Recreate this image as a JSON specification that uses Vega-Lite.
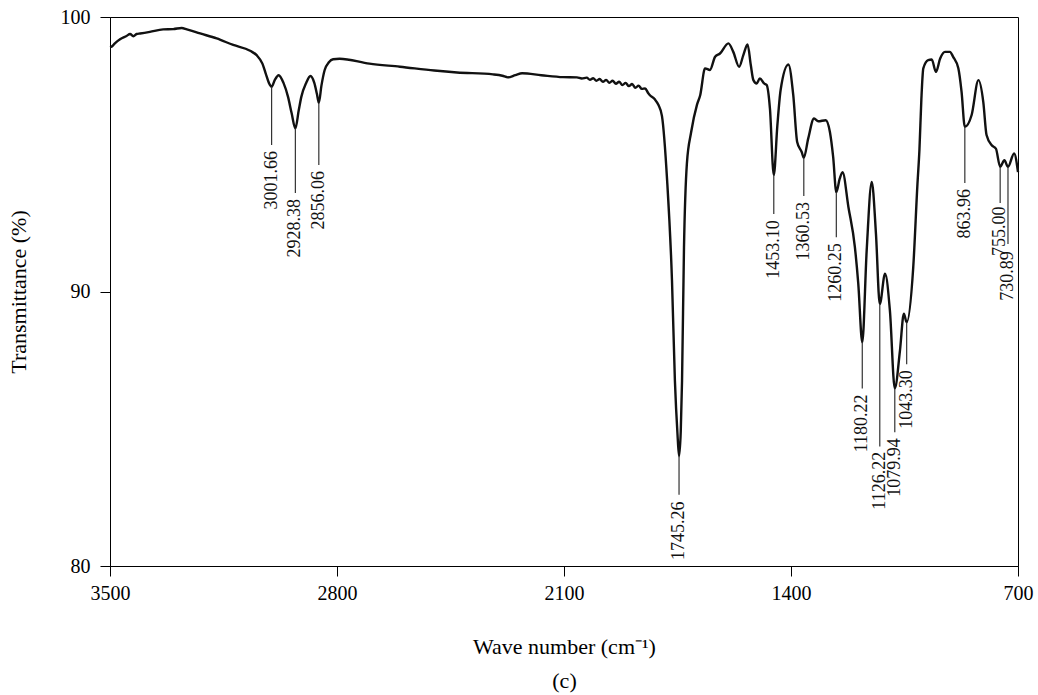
{
  "$schema": "https://vega.github.io/schema/vega-lite/v6.json",
  "width": 908,
  "height": 549,
  "autosize": {"type": "none"},
  "padding": {"left": 110, "top": 17, "right": 20, "bottom": 129},
  "background": "white",
  "config": {
    "font": "Liberation Serif",
    "view": {"stroke": "#000000", "strokeWidth": 1},
    "axis": {
      "domainColor": "#000000",
      "domainWidth": 1,
      "tickColor": "#000000",
      "tickWidth": 1,
      "tickSize": 10,
      "grid": false,
      "labelFont": "Liberation Serif",
      "labelFontSize": 20,
      "labelColor": "#000000",
      "titleFont": "Liberation Serif",
      "titleFontSize": 22,
      "titleFontWeight": "normal",
      "titleColor": "#000000"
    }
  },
  "datasets": {
    "spectrum": [
      {"wn": 3500, "T": 98.9}, {"wn": 3495, "T": 98.92}, {"wn": 3485, "T": 99.04}, {"wn": 3469, "T": 99.19},
      {"wn": 3449, "T": 99.31}, {"wn": 3438, "T": 99.38}, {"wn": 3428, "T": 99.3}, {"wn": 3418, "T": 99.38},
      {"wn": 3407, "T": 99.4}, {"wn": 3377, "T": 99.46}, {"wn": 3336, "T": 99.55}, {"wn": 3305, "T": 99.56},
      {"wn": 3279, "T": 99.6}, {"wn": 3263, "T": 99.55}, {"wn": 3222, "T": 99.4}, {"wn": 3171, "T": 99.22},
      {"wn": 3120, "T": 98.98}, {"wn": 3068, "T": 98.77}, {"wn": 3048, "T": 98.61}, {"wn": 3030, "T": 98.3},
      {"wn": 3020, "T": 97.95}, {"wn": 3010, "T": 97.6}, {"wn": 3001.66, "T": 97.46}, {"wn": 2992, "T": 97.7},
      {"wn": 2980, "T": 97.88}, {"wn": 2965, "T": 97.6}, {"wn": 2951, "T": 97.09}, {"wn": 2940, "T": 96.5},
      {"wn": 2928.38, "T": 95.94}, {"wn": 2918, "T": 96.6}, {"wn": 2910, "T": 97.09}, {"wn": 2895, "T": 97.6},
      {"wn": 2882, "T": 97.85}, {"wn": 2870, "T": 97.6}, {"wn": 2862, "T": 97.2}, {"wn": 2856.06, "T": 96.87},
      {"wn": 2848, "T": 97.5}, {"wn": 2838, "T": 98.07}, {"wn": 2825, "T": 98.35}, {"wn": 2812, "T": 98.46},
      {"wn": 2792, "T": 98.48}, {"wn": 2700, "T": 98.3}, {"wn": 2606, "T": 98.19}, {"wn": 2500, "T": 98.05},
      {"wn": 2430, "T": 97.98}, {"wn": 2319, "T": 97.91}, {"wn": 2290, "T": 97.86}, {"wn": 2273, "T": 97.8},
      {"wn": 2250, "T": 97.88}, {"wn": 2229, "T": 97.95}, {"wn": 2170, "T": 97.88}, {"wn": 2103, "T": 97.81},
      {"wn": 2060, "T": 97.8}, {"wn": 2045, "T": 97.76}, {"wn": 2030, "T": 97.79}, {"wn": 2020, "T": 97.71},
      {"wn": 2010, "T": 97.77}, {"wn": 2000, "T": 97.68}, {"wn": 1990, "T": 97.74}, {"wn": 1980, "T": 97.64},
      {"wn": 1970, "T": 97.71}, {"wn": 1960, "T": 97.6}, {"wn": 1950, "T": 97.68}, {"wn": 1940, "T": 97.57},
      {"wn": 1930, "T": 97.64}, {"wn": 1920, "T": 97.52}, {"wn": 1910, "T": 97.6}, {"wn": 1900, "T": 97.48},
      {"wn": 1890, "T": 97.56}, {"wn": 1880, "T": 97.42}, {"wn": 1870, "T": 97.5}, {"wn": 1860, "T": 97.38},
      {"wn": 1850, "T": 97.4}, {"wn": 1840, "T": 97.22}, {"wn": 1835, "T": 97.15}, {"wn": 1820, "T": 97.0},
      {"wn": 1809, "T": 96.8}, {"wn": 1798, "T": 96.4}, {"wn": 1782, "T": 94.05}, {"wn": 1767, "T": 90.4},
      {"wn": 1758, "T": 86.75}, {"wn": 1750, "T": 84.8}, {"wn": 1745.26, "T": 84.0}, {"wn": 1740, "T": 84.9},
      {"wn": 1736, "T": 86.75}, {"wn": 1730, "T": 91.6}, {"wn": 1721, "T": 94.67}, {"wn": 1708, "T": 95.8},
      {"wn": 1690, "T": 96.8}, {"wn": 1680, "T": 97.15}, {"wn": 1665, "T": 98.13}, {"wn": 1650, "T": 98.07},
      {"wn": 1634, "T": 98.55}, {"wn": 1619, "T": 98.67}, {"wn": 1593, "T": 99.04}, {"wn": 1578, "T": 98.73},
      {"wn": 1560, "T": 98.19}, {"wn": 1547, "T": 98.61}, {"wn": 1534, "T": 99.0}, {"wn": 1524, "T": 98.25},
      {"wn": 1516, "T": 97.7}, {"wn": 1506, "T": 97.58}, {"wn": 1496, "T": 97.76}, {"wn": 1483, "T": 97.58},
      {"wn": 1475, "T": 97.52}, {"wn": 1465, "T": 96.67}, {"wn": 1453.1, "T": 94.24}, {"wn": 1442, "T": 96.06},
      {"wn": 1432, "T": 97.34}, {"wn": 1408, "T": 98.27}, {"wn": 1393, "T": 97.15}, {"wn": 1381, "T": 95.45},
      {"wn": 1367, "T": 95.08}, {"wn": 1360.53, "T": 94.87}, {"wn": 1347, "T": 95.57}, {"wn": 1329, "T": 96.3},
      {"wn": 1316, "T": 96.2}, {"wn": 1293, "T": 96.24}, {"wn": 1280, "T": 95.81}, {"wn": 1270, "T": 94.9},
      {"wn": 1260.25, "T": 93.62}, {"wn": 1250, "T": 94.1}, {"wn": 1241, "T": 94.35}, {"wn": 1223, "T": 93.08},
      {"wn": 1203, "T": 91.62}, {"wn": 1192.5, "T": 90.28}, {"wn": 1180.22, "T": 88.15}, {"wn": 1166.6, "T": 91.5},
      {"wn": 1151, "T": 93.99}, {"wn": 1138, "T": 92.1}, {"wn": 1126.22, "T": 89.54}, {"wn": 1110, "T": 90.65},
      {"wn": 1095, "T": 89.3}, {"wn": 1079.94, "T": 86.47}, {"wn": 1064, "T": 87.85}, {"wn": 1052, "T": 89.19},
      {"wn": 1043.3, "T": 88.88}, {"wn": 1023, "T": 90.89}, {"wn": 1010, "T": 93.93}, {"wn": 1004, "T": 95.15},
      {"wn": 998, "T": 97.0}, {"wn": 992, "T": 98.13}, {"wn": 977, "T": 98.43}, {"wn": 966, "T": 98.45},
      {"wn": 953, "T": 98.0}, {"wn": 940, "T": 98.49}, {"wn": 925, "T": 98.73}, {"wn": 910, "T": 98.73},
      {"wn": 900, "T": 98.55}, {"wn": 884, "T": 98.13}, {"wn": 874, "T": 97.27}, {"wn": 863.96, "T": 96.0},
      {"wn": 843, "T": 96.43}, {"wn": 822, "T": 97.7}, {"wn": 807, "T": 96.9}, {"wn": 797, "T": 95.7},
      {"wn": 781, "T": 95.33}, {"wn": 768, "T": 95.2}, {"wn": 755, "T": 94.54}, {"wn": 742, "T": 94.78},
      {"wn": 730.89, "T": 94.54}, {"wn": 712, "T": 95.03}, {"wn": 700, "T": 94.35}
    ],
    "peaks": [
      {"wn": 3001.66, "label": "3001.66", "y_top": 97.46, "y_end": 95.34, "y_text": 95.12},
      {"wn": 2928.38, "label": "2928.38", "y_top": 95.94, "y_end": 93.59, "y_text": 93.37},
      {"wn": 2856.06, "label": "2856.06", "y_top": 96.87, "y_end": 94.61, "y_text": 94.39},
      {"wn": 1745.26, "label": "1745.26", "y_top": 84.0, "y_end": 82.6, "y_text": 82.35},
      {"wn": 1453.1, "label": "1453.10", "y_top": 94.24, "y_end": 92.82, "y_text": 92.6},
      {"wn": 1360.53, "label": "1360.53", "y_top": 94.87, "y_end": 93.48, "y_text": 93.26},
      {"wn": 1260.25, "label": "1260.25", "y_top": 93.62, "y_end": 91.98, "y_text": 91.76},
      {"wn": 1180.22, "label": "1180.22", "y_top": 88.15, "y_end": 86.47, "y_text": 86.25},
      {"wn": 1126.22, "label": "1126.22", "y_top": 89.54, "y_end": 84.35, "y_text": 84.16},
      {"wn": 1079.94, "label": "1079.94", "y_top": 86.47, "y_end": 84.87, "y_text": 84.65},
      {"wn": 1043.3, "label": "1043.30", "y_top": 88.88, "y_end": 87.35, "y_text": 87.13},
      {"wn": 863.96, "label": "863.96", "y_top": 96.0, "y_end": 93.95, "y_text": 93.73},
      {"wn": 755.0, "label": "755.00", "y_top": 94.54, "y_end": 93.22, "y_text": 93.1},
      {"wn": 730.89, "label": "730.89", "y_top": 94.54, "y_end": 91.73, "y_text": 91.47}
    ]
  },
  "layer": [
    {
      "data": {"name": "spectrum"},
      "mark": {"type": "line", "color": "#111111", "strokeWidth": 2.4, "strokeJoin": "round", "interpolate": "monotone"},
      "encoding": {
        "x": {
          "field": "wn", "type": "quantitative",
          "scale": {"domain": [700, 3500], "reverse": true, "nice": false, "zero": false},
          "axis": {
            "values": [3500, 2800, 2100, 1400, 700],
            "format": "d",
            "labelPadding": 7,
            "labelFlush": false,
            "title": ["Wave number (cm⁻¹)", "(c)"],
            "titleLineHeight": 34,
            "titleBaseline": "alphabetic",
            "titleY": 87
          }
        },
        "y": {
          "field": "T", "type": "quantitative",
          "scale": {"domain": [80, 100], "nice": false, "zero": false},
          "axis": {
            "values": [80, 90, 100],
            "labelPadding": 10,
            "labelFlush": false,
            "title": "Transmittance (%)",
            "titleBaseline": "middle",
            "titleX": -92,
            "titleY": 274.5,
            "titleAngle": 270
          }
        }
      }
    },
    {
      "data": {"name": "peaks"},
      "mark": {"type": "rule", "color": "#333333", "strokeWidth": 1.2},
      "encoding": {
        "x": {"field": "wn", "type": "quantitative"},
        "y": {"field": "y_top", "type": "quantitative"},
        "y2": {"field": "y_end"}
      }
    },
    {
      "data": {"name": "peaks"},
      "mark": {"type": "text", "angle": 270, "align": "right", "baseline": "middle", "font": "Liberation Serif", "fontSize": 18, "color": "#111111"},
      "encoding": {
        "x": {"field": "wn", "type": "quantitative"},
        "y": {"field": "y_text", "type": "quantitative"},
        "text": {"field": "label"}
      }
    }
  ]
}
